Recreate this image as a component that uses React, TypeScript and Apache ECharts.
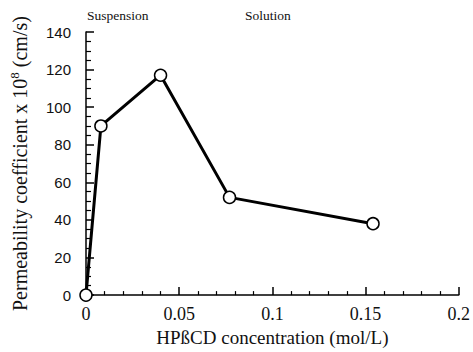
import React, { useEffect, useRef } from "react";
import * as echarts from "echarts";

const concentration = [0, 0.008, 0.04, 0.077, 0.154];
const permeability = [0, 90, 117, 52, 38];
const regionLabels = ["Suspension", "Solution"];

export default function App() {
  const ref = useRef<HTMLDivElement>(null);
  useEffect(() => {
    const chart = echarts.init(ref.current!, null, { renderer: "svg" });
    const serif = "Liberation Serif";
    const sans = "Liberation Sans";
    chart.setOption({
      animation: false,
      backgroundColor: "#ffffff",
      grid: { left: 85, right: 11, top: 32, bottom: 55, containLabel: false },
      xAxis: {
        type: "value",
        min: 0,
        max: 0.2,
        interval: 0.05,
        name: "HPßCD concentration (mol/L)",
        nameLocation: "middle",
        nameGap: 32,
        nameTextStyle: { fontFamily: serif, fontSize: 19, color: "#111" },
        axisLine: { show: true, lineStyle: { color: "#000", width: 1.5 } },
        axisTick: { show: true, inside: true, length: 8, lineStyle: { color: "#000", width: 1.5 } },
        minorTick: { show: true, splitNumber: 5, length: 4, lineStyle: { color: "#000", width: 1.2 } },
        axisLabel: { fontFamily: serif, fontSize: 18, color: "#111", margin: 10 },
        splitLine: { show: false },
      },
      yAxis: {
        type: "value",
        min: 0,
        max: 140,
        interval: 20,
        name: "{a|Permeability coefficient x 10}{s|8}{a| (cm/s)}",
        nameLocation: "middle",
        nameGap: 55,
        nameTextStyle: {
          rich: {
            a: { fontFamily: serif, fontSize: 20, color: "#111" },
            s: { fontFamily: serif, fontSize: 13, color: "#111", padding: [0, 0, 10, 0] },
          },
        },
        axisLine: { show: true, lineStyle: { color: "#000", width: 1.5 } },
        axisTick: { show: true, inside: true, length: 8, lineStyle: { color: "#000", width: 1.5 } },
        minorTick: { show: true, splitNumber: 4, length: 5, lineStyle: { color: "#000", width: 1.2 } },
        axisLabel: { fontFamily: sans, fontSize: 15, color: "#111", margin: 15 },
        splitLine: { show: false },
      },
      graphic: [
        {
          type: "text",
          left: 87,
          top: 8,
          style: { text: regionLabels[0], fontFamily: serif, fontSize: 13.5, fill: "#111" },
        },
        {
          type: "text",
          left: 245,
          top: 8,
          style: { text: regionLabels[1], fontFamily: serif, fontSize: 13.5, fill: "#111" },
        },
      ],
      series: [
        {
          type: "line",
          data: concentration.map((c, i) => [c, permeability[i]]),
          symbol: "circle",
          symbolSize: 12,
          lineStyle: { color: "#000", width: 3 },
          itemStyle: { color: "#fff", borderColor: "#000", borderWidth: 1.5 },
          clip: false,
          z: 5,
        },
      ],
    });
    return () => chart.dispose();
  }, []);
  return <div ref={ref} style={{ width: 473, height: 352, position: "absolute", left: 0, top: 0 }} />;
}
